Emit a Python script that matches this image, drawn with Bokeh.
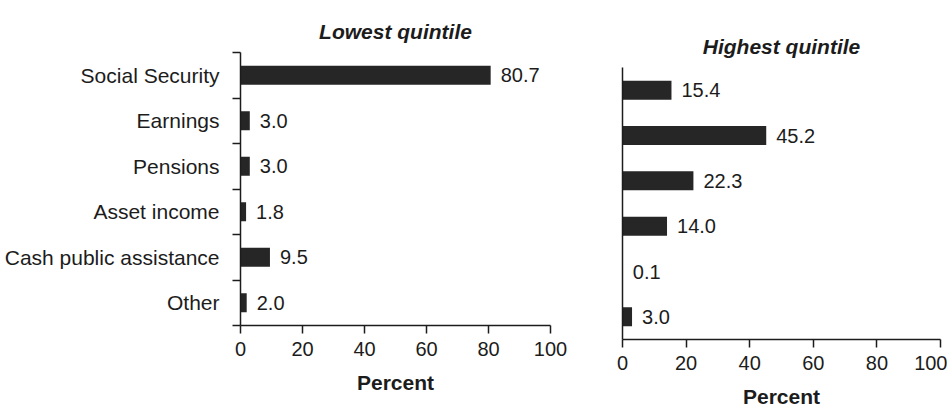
from bokeh.plotting import figure
from bokeh.layouts import row, column
from bokeh.models import Range1d, FixedTicker, ColumnDataSource, Spacer
from bokeh.embed import file_html
from bokeh.resources import INLINE
from bokeh.core.properties import value

categories = ["Social Security", "Earnings", "Pensions", "Asset income",
              "Cash public assistance", "Other"]
lowest = [80.7, 3.0, 3.0, 1.8, 9.5, 2.0]
highest = [15.4, 45.2, 22.3, 14.0, 0.1, 3.0]
x_ticks = [0, 20, 40, 60, 80, 100]
titles = ["Lowest quintile", "Highest quintile"]

FONT = "Liberation Sans"
INK = "#1c1c1c"
BAR = "#262626"


def panel(vals, title, width, height, mb_left, mb_right, mb_top, mb_bottom, show_labels):
    n = len(categories)
    idx = list(range(n))
    p = figure(width=width, height=height, output_backend="svg", toolbar_location=None,
               x_range=Range1d(0, 100), y_range=Range1d(n - 0.5, -0.5),
               min_border_left=mb_left, min_border_right=mb_right,
               min_border_top=mb_top, min_border_bottom=mb_bottom)
    p.outline_line_color = None
    p.xgrid.visible = False
    p.ygrid.visible = False
    p.background_fill_color = "white"

    src = ColumnDataSource(dict(y=idx, v=vals,
                                lab=["%.1f" % v for v in vals]))
    p.hbar(y="y", left=0, right="v", height=0.42, source=src,
           fill_color=BAR, line_color=None)
    p.text(x="v", y="y", text="lab", source=src, x_offset=10,
           text_align="left", text_baseline="middle",
           text_font=value(FONT), text_font_size="20px", text_color=INK)

    # title
    p.title.text = title
    p.title.align = "center"
    p.title.text_font = FONT
    p.title.text_font_size = "21px"
    p.title.text_font_style = "bold italic"
    p.title.text_color = INK
    p.title.standoff = 19

    # x axis
    xa = p.xaxis[0]
    xa.ticker = FixedTicker(ticks=x_ticks)
    xa.major_tick_out = 8
    xa.major_tick_in = 0
    xa.minor_tick_out = 0
    xa.minor_tick_in = 0
    xa.axis_line_color = INK
    xa.axis_line_width = 1.5
    xa.major_tick_line_color = INK
    xa.major_tick_line_width = 1.5
    xa.major_label_text_font = FONT
    xa.major_label_text_font_size = "20px"
    xa.major_label_text_color = INK
    xa.major_label_standoff = 8
    xa.axis_label = "Percent"
    xa.axis_label_text_font = FONT
    xa.axis_label_text_font_size = "21px"
    xa.axis_label_text_font_style = "bold"
    xa.axis_label_text_color = INK
    xa.axis_label_standoff = 12

    # y axis
    ya = p.yaxis[0]
    ya.axis_line_color = INK
    ya.axis_line_width = 1.5
    if show_labels:
        ya.ticker = FixedTicker(ticks=idx, minor_ticks=[i - 0.5 for i in range(n + 1)])
        ya.major_label_overrides = {i: c for i, c in zip(idx, categories)}
        ya.major_tick_line_color = None
        ya.major_tick_out = 0
        ya.major_tick_in = 0
        ya.minor_tick_out = 8
        ya.minor_tick_in = 0
        ya.minor_tick_line_color = INK
        ya.minor_tick_line_width = 1.5
        ya.major_label_standoff = 13
        ya.major_label_text_font = FONT
        ya.major_label_text_font_size = "21px"
        ya.major_label_text_color = INK
    else:
        ya.ticker = FixedTicker(ticks=[])
        ya.major_tick_line_color = None
        ya.minor_tick_line_color = None
        ya.major_label_text_font_size = "0px"
    return p


left = panel(lowest, titles[0], 582, 414, 240, 32, 52, 414 - 325, True)
right = panel(highest, titles[1], 365, 400, 40, 7, 53, 400 - 325, False)

layout = row(column(left), column(Spacer(width=365, height=14), right))
open("out.html", "w").write(file_html(layout, INLINE))
